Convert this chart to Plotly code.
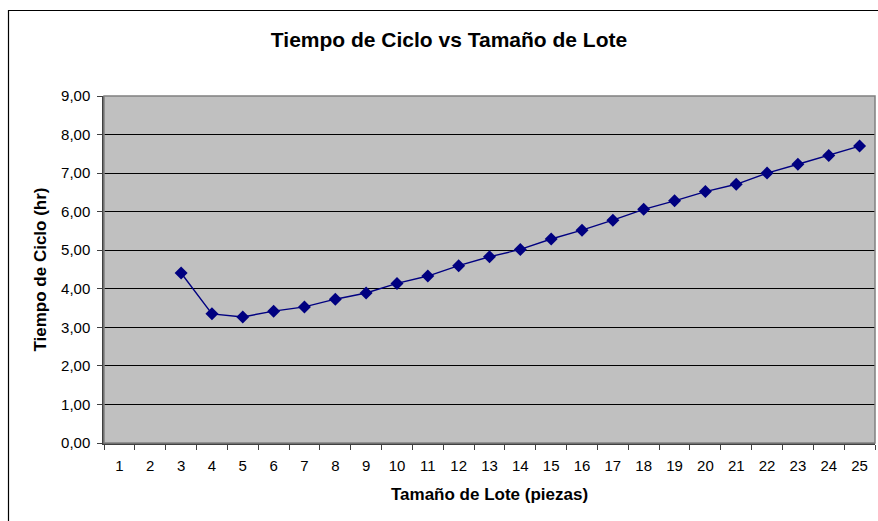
import plotly.graph_objects as go

# Tamaño de lote (categorías del eje x) y tiempo de ciclo en horas
lot_sizes = [str(n) for n in range(1, 26)]
point_lots = [str(n) for n in range(3, 26)]
cycle_time = [4.41, 3.35, 3.27, 3.42, 3.53, 3.73, 3.89, 4.14, 4.33, 4.60, 4.83, 5.02,
              5.29, 5.52, 5.78, 6.06, 6.28, 6.52, 6.71, 7.00, 7.23, 7.46, 7.70]
y_ticks = [0, 1, 2, 3, 4, 5, 6, 7, 8, 9]

NAVY = "#000080"
FONT = "Liberation Sans, Arial, sans-serif"

fig = go.Figure(
    go.Scatter(
        x=point_lots,
        y=cycle_time,
        mode="lines+markers",
        line=dict(color=NAVY, width=1.4),
        marker=dict(symbol="diamond", size=10, color=NAVY),
        showlegend=False,
    )
)

# plot area: x 104..875, y 96..443 in a 878x521 page
pw, ph = 771, 347
fig.add_shape(
    type="rect", xref="paper", yref="paper",
    x0=(8.5 - 104) / pw, x1=(890 - 104) / pw,
    y0=(443 - 540) / ph, y1=(443 - 10.5) / ph,
    line=dict(color="black", width=1.2), layer="below",
)
fig.add_shape(
    type="rect", xref="paper", yref="paper",
    x0=0, x1=1, y0=0, y1=1,
    line=dict(color="#808080", width=1.5), layer="above",
)

fig.update_layout(
    width=878,
    height=521,
    margin=dict(l=104, r=3, t=96, b=78),
    paper_bgcolor="white",
    plot_bgcolor="#C0C0C0",
    separators=",.",
    font=dict(family=FONT, size=15, color="black"),
    title=dict(
        text="<b>Tiempo de Ciclo vs Tamaño de Lote</b>",
        x=449 / 878, xanchor="center",
        y=1 - 40 / 521, yanchor="middle",
        font=dict(size=21, family=FONT),
    ),
    xaxis=dict(
        type="category",
        categoryorder="array",
        categoryarray=lot_sizes,
        tickvals=lot_sizes,
        range=[-0.5, 24.5],
        tickson="boundaries",
        ticks="outside",
        ticklen=5,
        tickcolor="#404040",
        showgrid=False,
        showline=True,
        linecolor="#404040",
        linewidth=1.5,
        title=dict(text="<b>Tamaño de Lote (piezas)</b>", font=dict(size=17), standoff=15),
        ticklabelstandoff=8,
    ),
    yaxis=dict(
        range=[0, 9],
        tickvals=y_ticks,
        tickformat=".2f",
        ticks="outside",
        ticklen=5,
        tickcolor="#404040",
        showgrid=True,
        gridcolor="black",
        gridwidth=1,
        zeroline=False,
        showline=True,
        linecolor="#404040",
        linewidth=1.5,
        ticklabelstandoff=4,
        title=dict(text="<b>Tiempo de Ciclo (hr)</b>", font=dict(size=17), standoff=10),
    ),
)

fig.write_html(
    "out.html",
    config={"displayModeBar": False},
    post_script="document.body.style.margin='0';",
)
